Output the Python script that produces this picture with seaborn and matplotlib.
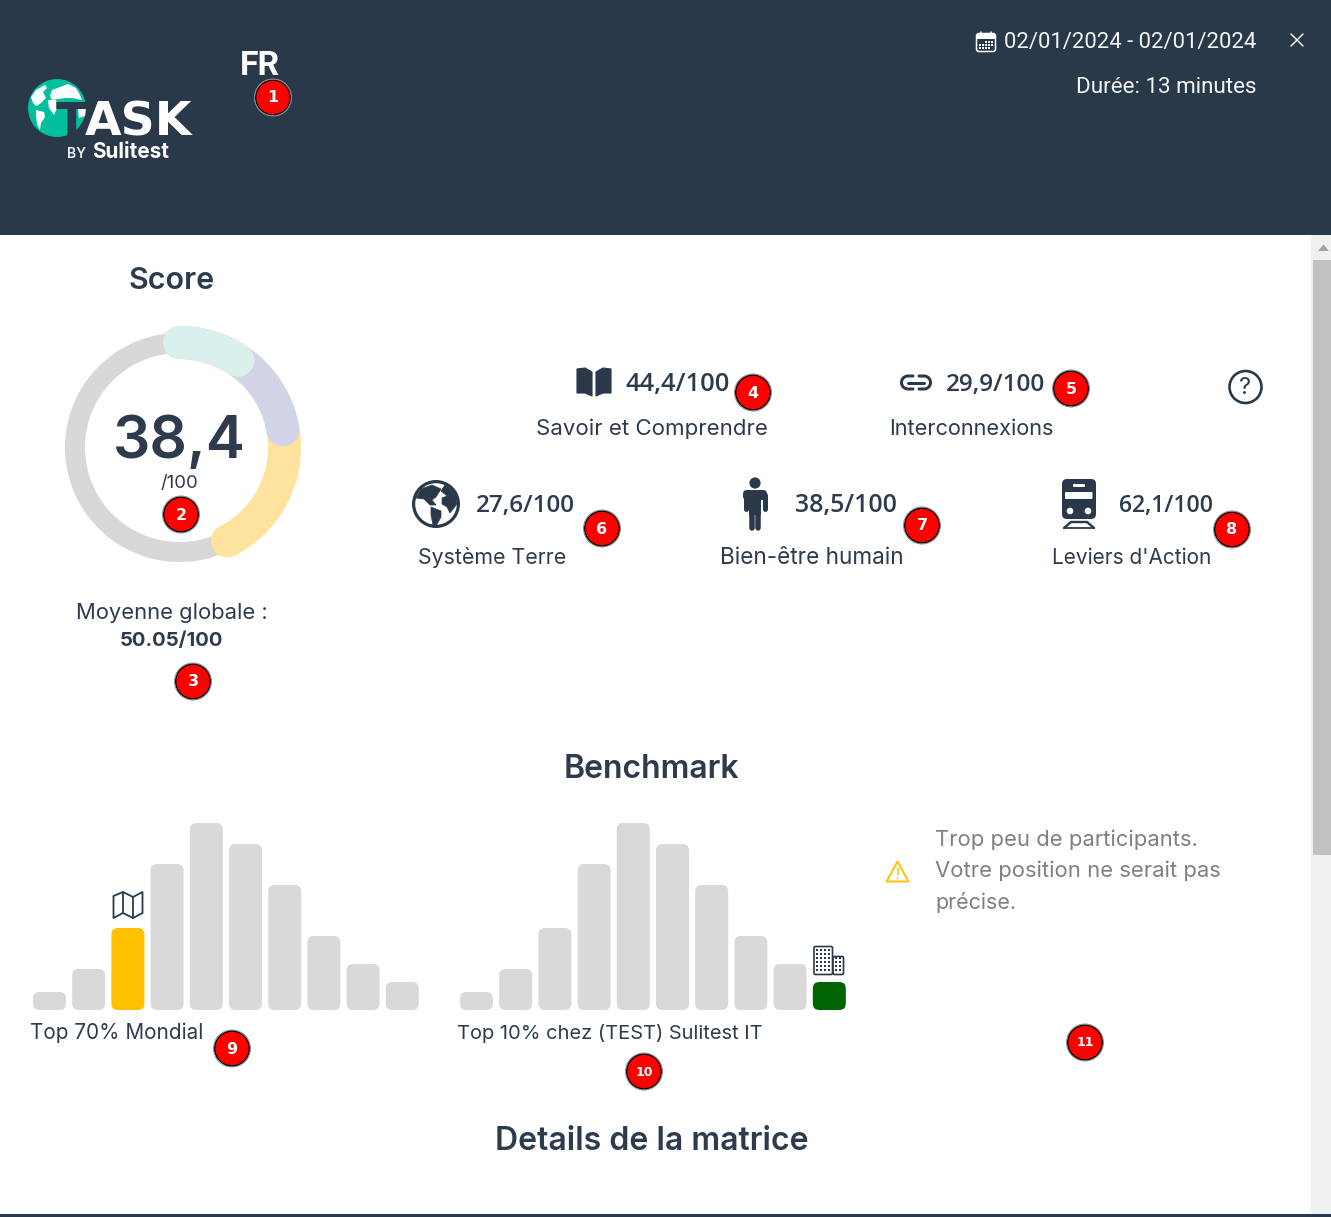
import numpy as np
import pandas as pd
import matplotlib
matplotlib.use("Agg")
import matplotlib.pyplot as plt
from matplotlib.patches import Circle, FancyBboxPatch, Polygon, Rectangle
import seaborn as sns

# values
score = "38,4"
score_max = "/100"
mean_label = "Moyenne globale :"
mean_value = "50.05/100"
donut_ends_pct = [9.4, 22.3, 42.5]
donut_colors = ["#d9f0ed", "#d2d4e8", "#fee39f"]

dimension_names = ["Savoir et Comprendre", "Interconnexions", "Système Terre",
                   "Bien-être humain", "Leviers d'Action"]
dimension_scores = [44.4, 29.9, 27.6, 38.5, 62.1]

bins = ["0-10", "10-20", "20-30", "30-40", "40-50", "50-60", "60-70", "70-80", "80-90", "90-100"]
bench_counts = [18, 41, 82, 146, 187, 166, 125, 74, 46, 28]
world_bin = "20-30"
company_bin = "90-100"
world_label = "Top 70% Mondial"
company_label = "Top 10% chez (TEST) Sulitest IT"
warning_lines = ["Trop peu de participants.", "Votre position ne serait pas", "précise."]

W, H = 1331, 1217
DARK = "#2a3949"
TEXT = "#2d3b4d"
GREY_BAR = "#d9d9d9"

sns.set_theme(style="white")
plt.rcParams["font.family"] = ["Inter", "DejaVu Sans"]

fig = plt.figure(figsize=(W / 100, H / 100), dpi=100, facecolor="white")


def axes_px(x0, y0, x1, y1, **kw):
    return fig.add_axes([x0 / W, 1 - y1 / H, (x1 - x0) / W, (y1 - y0) / H], **kw)


ov = axes_px(0, 0, W, H)
ov.set_xlim(0, W)
ov.set_ylim(H, 0)
ov.axis("off")
ov.set_zorder(2)
ov.patch.set_alpha(0)
renderer = fig.canvas.get_renderer()


def put(s, x0, x1, y, color=TEXT, weight="normal", family=None):
    # font size is fitted so the text takes the same width as in the screenshot
    t = ov.text(x0, y, s, color=color, fontweight=weight, fontsize=16, va="baseline", ha="left")
    if family:
        t.set_family(family)
    w = t.get_window_extent(renderer).width
    t.set_fontsize(16 * (x1 - x0) / w)
    return t


def line(pts, color=DARK, lw=2, **kw):
    pts = np.array(pts)
    ov.plot(pts[:, 0], pts[:, 1], color=color, lw=lw * 0.72, solid_capstyle="round",
            solid_joinstyle="round", **kw)


def arc(cx, cy, r, a0, a1, n=30):
    a = np.radians(np.linspace(a0, a1, n))
    return np.c_[cx + r * np.cos(a), cy + r * np.sin(a)]


def rbox(x, y, w, h, r, **kw):
    ov.add_patch(FancyBboxPatch((x, y), w, h, boxstyle=f"round,pad=0,rounding_size={r}", **kw))


def badge(x, y, n):
    ov.add_patch(Circle((x, y), 18.5, fc="white", ec="#8a8a8a", lw=0.7))
    ov.add_patch(Circle((x, y), 17.3, fc="red", ec="black", lw=0.9))
    size = 11.5 if n < 10 else 9
    ov.text(x, y + 0.5, str(n), color="white", fontsize=size, fontweight="bold", family="DejaVu Sans",
            ha="center", va="center")


# page background pieces
ov.add_patch(Rectangle((0, 0), W, 235, fc=DARK, ec="none"))
ov.add_patch(Rectangle((1311, 235), 20, H - 235, fc="#f0f0f0", ec="none"))
ov.add_patch(Rectangle((1313, 260), 18, 595, fc="#c1c1c1", ec="none"))
ov.add_patch(Polygon([(1318, 251), (1329, 251), (1323.5, 244.5)], fc="#a3a3a3", ec="none"))
ov.add_patch(Rectangle((0, 1214), W, 3, fc=DARK, ec="none"))

# logo
ov.add_patch(Circle((57, 108), 29, fc="#00bf9f", ec="none"))
for poly in ([(31, 97), (36, 90), (45, 85), (47, 88), (43, 92), (46, 98), (40, 104), (36, 106), (33, 103)],
             [(36, 110), (44, 112), (45, 117), (41, 123), (40, 130), (37, 124), (36, 116)],
             [(50, 96), (52, 90), (60, 87), (68, 84), (76, 88), (80, 95), (82, 100), (72, 98), (66, 98), (58, 99), (52, 100)],
             [(48, 100), (56, 100), (58, 106), (54, 115), (49, 108)],
             [(78, 108), (86, 107), (85, 116), (79, 118)]):
    ov.add_patch(Polygon(poly, fc="white", ec="none"))
put("T", 56, 88, 136, color=DARK, weight="bold", family="DejaVu Sans")
put("ASK", 85, 192, 136, color="white", weight="bold", family="DejaVu Sans")
put("BY", 67, 86, 158, color="#f0f0f0", weight="semibold")
put("Sulitest", 92, 169, 158, color="white", weight="bold")
put("FR", 240, 280, 75, color="white", weight="bold", family="Roboto")

# header right side
rbox(976.5, 33.5, 19, 18, 2.5, fc="none", ec="white", lw=1.1)
ov.add_patch(Rectangle((977, 33.5), 18, 5, fc="white", ec="none"))
line([(981, 31.5), (981, 35)], color="white", lw=1.5)
line([(991, 31.5), (991, 35)], color="white", lw=1.5)
for gx, gy in [(986, 42), (989, 42), (992, 42), (980, 45), (983, 45), (986, 45), (989, 45), (992, 45),
               (980, 48), (983, 48), (986, 48), (989, 48)]:
    ov.add_patch(Rectangle((gx - 0.8, gy - 0.8), 1.6, 1.6, fc="white", ec="none"))
put("02/01/2024 - 02/01/2024", 1004, 1257, 48, color="#f5f5f5", family="Roboto")
put("Durée: 13 minutes", 1076, 1257, 93, color="#f5f5f5", family="Roboto")
line([(1291, 34), (1303, 46)], color="white", lw=1.4)
line([(1303, 34), (1291, 46)], color="white", lw=1.4)

# donut, polar axes centred on the ring
ring = axes_px(54.5, 322.5, 304.5, 572.5, projection="polar")
ring.set_zorder(1)
ring.patch.set_alpha(0)
ring.set_theta_zero_location("N")
ring.set_theta_direction(-1)
ring.set_rlim(0, 125)
ring.axis("off")
ring.plot(np.linspace(0, 2 * np.pi, 300), np.full(300, 104.5), color="#d8d8d8", lw=20 * 0.72)
for end, c in list(zip(donut_ends_pct, donut_colors))[::-1]:
    th = np.linspace(0, end / 100 * 2 * np.pi, 200)
    ring.plot(th, np.full(200, 105), color=c, lw=33 * 0.72, solid_capstyle="round")

put("Score", 129, 215, 289, weight="semibold")
put(score, 113, 246, 458, weight="semibold")
put(score_max, 161, 199, 488)
put(mean_label, 76, 268, 619)
put(mean_value, 120, 224, 646, weight="bold")

# the five sub scores
value_pos = [(625, 729, 391), (946, 1046, 391), (476, 575, 512), (795, 897, 512), (1119, 1213, 512)]
name_pos = [(536, 768, 435), (889, 1055, 435), (418, 566, 564), (720, 904, 564), (1052, 1212, 564)]
for name, val, vp, np_ in zip(dimension_names, dimension_scores, value_pos, name_pos):
    put(f"{val:.1f}".replace(".", ",") + "/100", vp[0], vp[1], vp[2], weight="semibold", family="Open Sans")
    put(name, np_[0], np_[1], np_[2])

# book
ov.add_patch(Polygon([(577, 369), (585, 368), (592, 372), (592, 396), (585, 393), (577, 393)], fc=DARK, ec=DARK, lw=0.8, joinstyle="round"))
ov.add_patch(Polygon([(596, 372), (603, 368), (611, 369), (611, 393), (603, 393), (596, 396)], fc=DARK, ec=DARK, lw=0.8, joinstyle="round"))
# link
line(np.vstack([[(913, 376)], arc(908, 382.5, 6.5, 270, 90), [(913, 389)]]), lw=3)
line(np.vstack([[(919, 376)], arc(924, 382.5, 6.5, -90, 90), [(919, 389)]]), lw=3)
line([(908, 382.5), (924, 382.5)], lw=3)
# question mark
ov.add_patch(Circle((1245.5, 387), 16, fc="none", ec=DARK, lw=1.9))
ov.text(1245.5, 387.5, "?", color=DARK, fontsize=17, ha="center", va="center")
# globe
ov.add_patch(Circle((436, 504), 24, fc=DARK, ec="none"))
ov.add_patch(Circle((436, 504), 20.8, fc="white", ec="none"))
for poly in ([(421, 489), (432, 485), (441, 489), (436, 497), (432, 500), (436, 505), (430, 505), (424, 499), (416, 498)],
             [(431, 507), (441, 511), (441, 517), (436, 526), (433, 525), (431, 515)],
             [(445, 485), (452, 490), (456, 497), (457, 504), (450, 513), (447, 507), (442, 504), (442, 498), (447, 496), (441, 491)]):
    ov.add_patch(Polygon(poly, fc=DARK, ec=DARK, lw=0.5))
# person
ov.add_patch(Circle((755, 483), 5.6, fc=DARK, ec="none"))
rbox(743, 490, 24, 10, 4, fc=DARK, ec="none")
ov.add_patch(Rectangle((749, 495), 12, 20, fc=DARK, ec="none"))
line([(745.5, 495), (745.5, 509)], lw=5)
line([(764.5, 495), (764.5, 509)], lw=5)
line([(751.8, 512), (751.8, 528)], lw=5.5)
line([(758.2, 512), (758.2, 528)], lw=5.5)
# train
rbox(1062, 479, 34, 40, 5, fc=DARK, ec="none")
rbox(1065, 492, 27.5, 7, 1, fc="white", ec="none")
rbox(1073, 484, 12, 3, 1, fc="white", ec="none")
ov.add_patch(Circle((1070, 511), 3.3, fc="white", ec="none"))
ov.add_patch(Circle((1088, 511), 3.3, fc="white", ec="none"))
line([(1064, 528), (1071, 522), (1087, 522), (1094, 528)], lw=2.4)
line([(1064, 528), (1094, 528)], lw=1.8)

# benchmark titles
put("Benchmark", 564, 740, 778, weight="semibold")
put("Details de la matrice", 495, 809, 1150, weight="semibold")
put(world_label, 30, 204, 1039)
put(company_label, 457, 764, 1039)


def bench(x_left, highlight, color):
    # one category step is 39.2 px and one count is one px tall
    step = 39.2
    ax = axes_px(x_left - step / 2 + 16.5, 810, x_left + 9.5 * step + 16.5, 1010)
    ax.set_zorder(1)
    df = pd.DataFrame({"bin": bins, "count": bench_counts})
    pal = {b: (color if b == highlight else GREY_BAR) for b in bins}
    sns.barplot(data=df, x="bin", y="count", hue="bin", palette=pal, legend=False,
                width=33 / step, saturation=1, ax=ax)
    ax.set_xlim(-0.5, 9.5)
    ax.set_ylim(0, 200)
    ax.axis("off")
    for p in list(ax.patches):
        ax.add_patch(FancyBboxPatch((p.get_x(), 0), p.get_width(), p.get_height(),
                                    boxstyle=f"round,pad=0,rounding_size={6.5 / step}",
                                    mutation_aspect=step, fc=p.get_facecolor(), ec="none"))
        p.set_visible(False)


bench(33, world_bin, "#ffc000")
bench(460, company_bin, "#006400")

# map icon over the yellow bar
ov.add_patch(Polygon([(113.5, 896), (123, 892), (133, 897), (142.5, 892), (142.5, 913), (133, 918), (123, 913), (113.5, 918)],
                     fc="none", ec=DARK, lw=1.3, joinstyle="round"))
line([(123, 892), (123, 913)], lw=1.8)
line([(133, 897), (133, 918)], lw=1.8)

# building icon over the green bar
rbox(814, 946.5, 18.5, 28, 1.5, fc="none", ec=DARK, lw=1.2)
rbox(833, 956.5, 10.5, 18, 1.5, fc="none", ec=DARK, lw=1.2)
for gy in range(950, 972, 4):
    for gx in (817, 821, 825, 829):
        ov.add_patch(Rectangle((gx - 0.7, gy - 0.7), 1.4, 1.4, fc=DARK, ec="none"))
    if gy > 957:
        for gx in (836, 840):
            ov.add_patch(Rectangle((gx - 0.7, gy - 0.7), 1.4, 1.4, fc=DARK, ec="none"))

# warning
ov.add_patch(Polygon([(897.5, 861.5), (908.5, 881.5), (886.5, 881.5)], fc="none", ec="#ffc107", lw=1.4, joinstyle="round"))
line([(897.5, 868), (897.5, 875)], color="#ffc107", lw=1.6)
ov.add_patch(Circle((897.5, 878.5), 0.9, fc="#ffc107", ec="none"))
for s, x1, y in zip(warning_lines, (1198, 1221, 1016), (846, 877, 909)):
    put(s, 935, x1, y, color="#808080")

for bx, by, n in [(273, 97.5, 1), (181, 514.5, 2), (193, 681.5, 3), (753, 392.5, 4), (1071, 388.5, 5), (602, 528.5, 6),
                  (922, 525.5, 7), (1232, 529.5, 8), (232, 1048.5, 9), (644, 1071.5, 10), (1085, 1042.5, 11)]:
    badge(bx, by, n)

fig.savefig("out.png", dpi=100)
